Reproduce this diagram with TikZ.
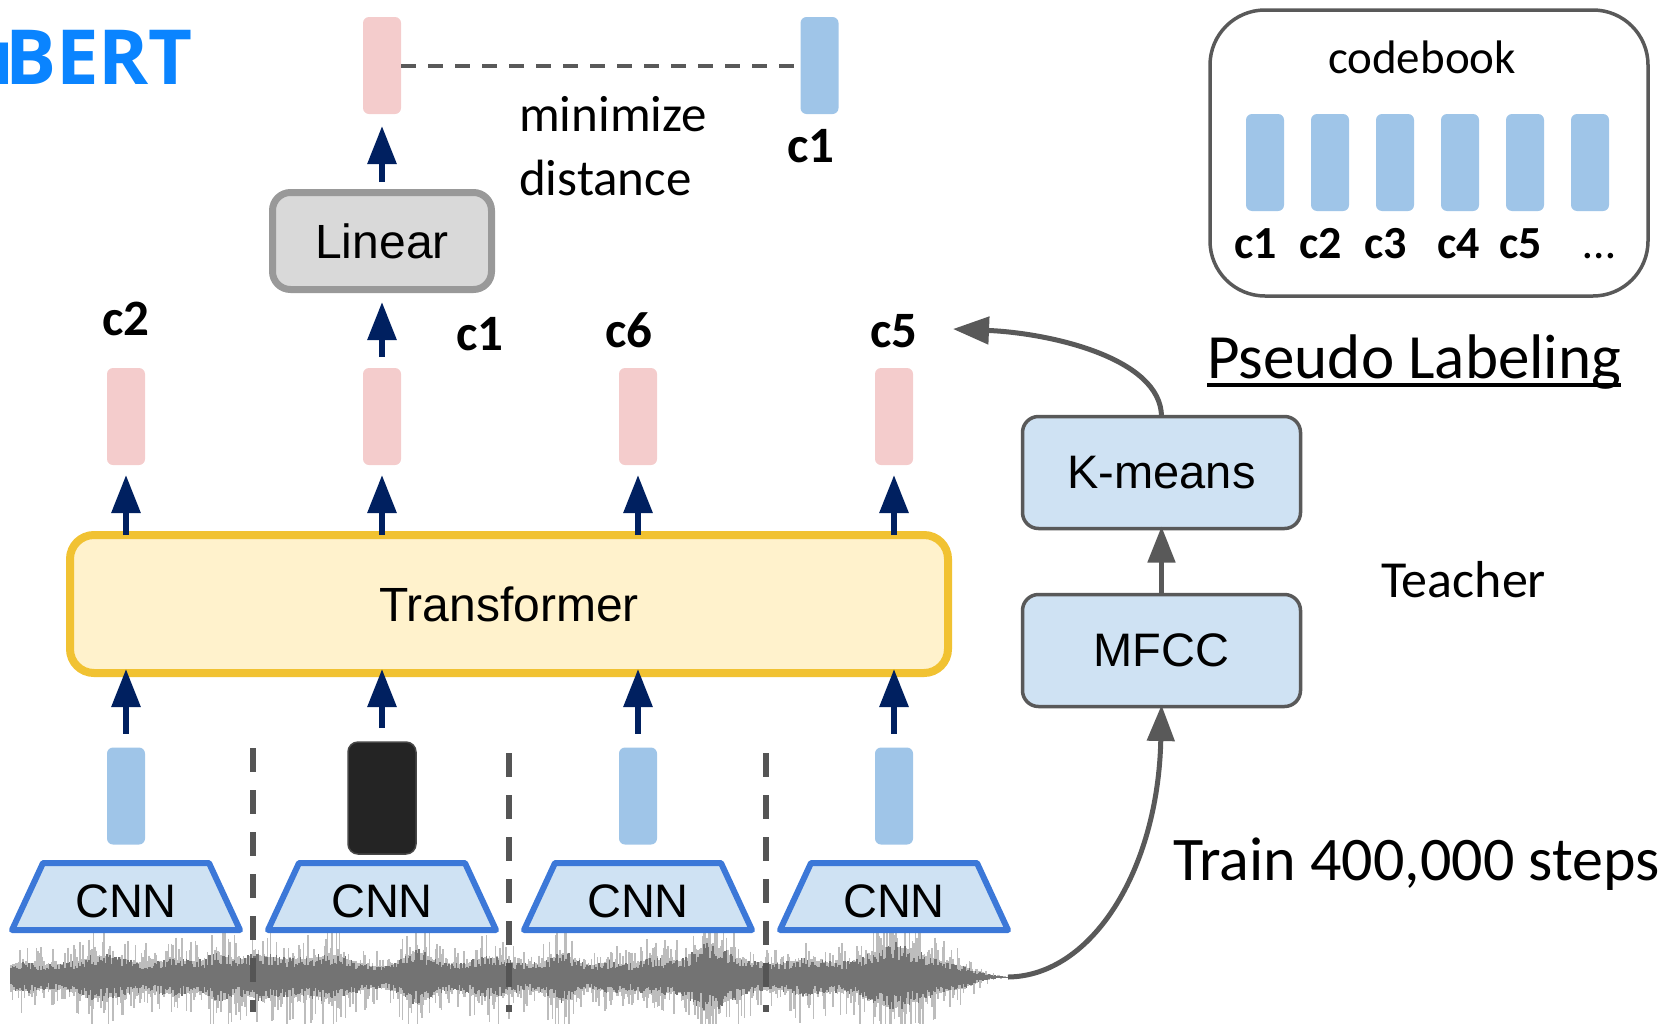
\documentclass[tikz,border=0pt]{standalone}
\usepackage{fontspec}
\usetikzlibrary{arrows.meta,calc}
\newfontfamily\arialf{Liberation Sans}
\newfontfamily\calif{Carlito}
\newfontfamily\titlef{Open Sans}
\definecolor{navy}{HTML}{002060}
\definecolor{pinkc}{HTML}{F4CCCC}
\definecolor{barblue}{HTML}{9FC5E8}
\definecolor{cnnfill}{HTML}{CFE2F3}
\definecolor{cnnedge}{HTML}{3C78D8}
\definecolor{trfill}{HTML}{FFF2CC}
\definecolor{tredge}{HTML}{F1C232}
\definecolor{linfill}{HTML}{D9D9D9}
\definecolor{linedge}{HTML}{999999}
\definecolor{grayfive}{HTML}{595959}
\definecolor{dashgray}{HTML}{555555}
\definecolor{titleblue}{HTML}{0A84FF}
\definecolor{wavedarkc}{HTML}{737373}
\definecolor{wavelightc}{HTML}{BDBDBD}
\begin{document}
\begin{tikzpicture}[x=1pt,y=-1pt,
  bar/.style={rectangle, rounded corners=6pt, minimum width=38pt, minimum height=97pt, inner sep=0pt, outer sep=0pt},
  pinkbar/.style={bar, fill=pinkc},
  bluebar/.style={bar, fill=barblue},
  navyarrow/.style={draw=navy, line width=6pt, -{Triangle[width=28pt,length=38pt]}},
  grayarrow/.style={draw=grayfive, line width=5pt, -{Triangle[width=27pt,length=36pt]}},
  bluebox/.style={rectangle, rounded corners=16pt, inner sep=0pt, outer sep=0pt, minimum width=278pt, minimum height=112pt, fill=cnnfill, draw=grayfive, line width=3.5pt, font=\arialf\fontsize{47}{56}\selectfont},
  lab/.style={font=\calif\bfseries\fontsize{51}{58}\selectfont, inner sep=0pt, anchor=base},
  cblab/.style={font=\calif\bfseries\fontsize{46}{54}\selectfont, inner sep=0pt, anchor=base},
  caltext/.style={inner sep=0pt, anchor=base west},
  cnnshape/.style={fill=cnnfill, draw=cnnedge, line width=6pt, line join=round},
  cnntext/.style={font=\arialf\fontsize{47}{56}\selectfont, inner sep=0pt, anchor=base},
  vdash/.style={draw=dashgray, line width=6pt, dash pattern=on 24pt off 18pt},
  wavedark/.style={draw=wavedarkc, line width=1.7pt},
  wavelight/.style={draw=wavelightc, line width=1.5pt}
]
\useasboundingbox (0,0) rectangle (1680,1023);
\clip (0,0) rectangle (1680,1023);

% ---------------- waveform ----------------
\pgfmathsetseed{4242}
\foreach \x in {11,12.5,...,1007}{
  \pgfmathsetmacro{\tp}{min(1,(1008-\x)/75)}
  \pgfmathsetmacro{\bu}{1+0.9*exp(-((\x-217)/14)^2)+0.7*exp(-((\x-420)/20)^2)+0.6*exp(-((\x-560)/18)^2)+0.9*exp(-((\x-608)/14)^2)+0.8*exp(-((\x-706)/16)^2)+0.5*exp(-((\x-905)/25)^2)}
  \pgfmathsetmacro{\en}{\bu*\tp*(8+7*abs(sin(0.9*\x))^2+6*abs(sin(2.3*\x+40))^3+5*abs(sin(0.31*\x+10))^2)}
  \pgfmathsetmacro{\lu}{\en*(0.9+1.3*rnd^3)}
  \pgfmathsetmacro{\ld}{\en*(0.9+1.6*rnd^3)}
  \draw[wavelight] (\x,{977-\lu}) -- (\x,{977+\ld});
  \pgfmathsetmacro{\du}{\en*(0.5+0.55*rnd)}
  \pgfmathsetmacro{\dd}{\en*(0.5+0.55*rnd)}
  \draw[wavedark] (\x,{977-\du}) -- (\x,{977+\dd});
}
\coordinate (wend) at (1008,977);

% ---------------- dashed separators ----------------
\draw[vdash] (253,748) -- (253,1012);
\draw[vdash] (509,753) -- (509,1012);
\draw[vdash] (766,753) -- (766,1012);

% ---------------- CNNs ----------------
\foreach \c/\n in {126/1,382/2,638/3,894/4}{
  \draw[cnnshape] ({\c-83},863) -- ({\c+83},863) -- ({\c+114},930) -- ({\c-114},930) -- cycle;
  \node[cnntext] (cnn\n) at (\c,917) {CNN};
}

% ---------------- bottom features ----------------
\node[bluebar] (b1) at (126,796) {};
\node[rectangle, rounded corners=10pt, minimum width=68pt, minimum height=112pt, inner sep=0pt, outer sep=0pt, fill=black!86, draw=black!72, line width=1.5pt] (b2) at (382,798) {};
\node[bluebar] (b3) at (638,796) {};
\node[bluebar] (b4) at (894,796) {};

% ---------------- Transformer ----------------
\node[rectangle, rounded corners=24pt, minimum width=878pt, minimum height=138pt, inner sep=0pt, outer sep=0pt, fill=trfill, draw=tredge, line width=8pt, font=\arialf\fontsize{48}{56}\selectfont] (T) at (509,604) {Transformer};

% ---------------- output targets ----------------
\node[pinkbar] (p1) at (126,416.5) {};
\node[pinkbar] (p2) at (382,416.5) {};
\node[pinkbar] (p3) at (638,416.5) {};
\node[pinkbar] (p4) at (894,416.5) {};
\node[lab] (l2) at (126,335) {c2};
\node[lab] (l1) at (480,350) {c1};
\node[lab] (l6) at (629,347) {c6};
\node[lab] (l5) at (894,347) {c5};

% arrows bottom -> transformer -> targets
\foreach \i in {1,2,3,4}{
  \draw[navyarrow, shorten <=14pt, shorten >=-4pt] (b\i.north) -- (b\i.north |- T.south);
  \draw[navyarrow, shorten >=10pt] (p\i.south |- T.north) -- (p\i.south);
}

% ---------------- Linear ----------------
\node[rectangle, rounded corners=18pt, minimum width=219pt, minimum height=97pt, inner sep=0pt, outer sep=0pt, fill=linfill, draw=linedge, line width=7pt, font=\arialf\fontsize{48}{56}\selectfont] (L) at (382,241) {Linear};
\draw[navyarrow, shorten <=11pt, shorten >=12.5pt] (p2.north) -- (L.south);

\node[pinkbar] (tp) at (382,65.5) {};
\node[bluebar] (tb) at (819.5,65.5) {};
\draw[navyarrow, shorten <=10.5pt, shorten >=12pt] (L.north) -- (tp.south);
\draw[draw=grayfive, line width=4pt, dash pattern=on 15pt off 12pt] (tp.east) -- (tb.west);
\node[lab] (lt) at (811,162) {c1};
\node[caltext, font=\calif\fontsize{51}{60}\selectfont] (min1) at (519,131) {minimize};
\node[caltext, font=\calif\fontsize{51}{60}\selectfont] (min2) at (519,195) {distance};

% ---------------- title ----------------
\node[font=\titlef\bfseries\fontsize{76}{80}\selectfont, text=titleblue, anchor=base east, inner sep=0pt] (title) at (193,84) {u\kern-9pt BERT};

% ---------------- teacher ----------------
\node[bluebox] (K) at (1161.5,472.5) {K-means};
\node[bluebox] (M) at (1161.5,650.5) {MFCC};
\draw[grayarrow, shorten >=-2pt] (M.north) -- (K.south);
\draw[grayarrow, shorten >=-1.5pt] (wend) .. controls (1092,976) and (1158,870) .. (M.south);
\coordinate (c5in) at (953,329);
\draw[grayarrow] (K.north) .. controls (1161,358) and (1050,333) .. (c5in);

\node[caltext, font=\calif\fontsize{52}{60}\selectfont] (teacher) at (1381,597) {Teacher};
\node[caltext, font=\calif\fontsize{62}{70}\selectfont] (train) at (1173,880) {Train 400,000 steps};
\node[caltext, font=\calif\fontsize{63}{70}\selectfont] (PL) at (1207,378) {Pseudo Labeling};
\draw[black, line width=4pt] ($(PL.base west)+(0,7)$) -- ($(PL.base east)+(0,7)$);

% ---------------- codebook ----------------
\node[rectangle, rounded corners=55pt, minimum width=438pt, minimum height=286pt, inner sep=0pt, outer sep=0pt, draw=grayfive, line width=3.5pt, fill=white] (CB) at (1429,153) {};
\node[caltext, anchor=base, font=\calif\fontsize{47}{56}\selectfont] (cbt) at (1422,73) {codebook};
\foreach \x/\n in {1265/1,1330/2,1395/3,1460/4,1525/5,1590/6}{
  \node[bluebar] (cb\n) at (\x,162.5) {};
}
\node[cblab] (k1) at (1256,258) {c1};
\node[cblab] (k2) at (1321,258) {c2};
\node[cblab] (k3) at (1386,258) {c3};
\node[cblab] (k4) at (1459,258) {c4};
\node[cblab] (k5) at (1521,258) {c5};
\node[caltext, anchor=base, font=\calif\fontsize{46}{54}\selectfont] (k6) at (1599,258) {…};
\end{tikzpicture}
\end{document}
